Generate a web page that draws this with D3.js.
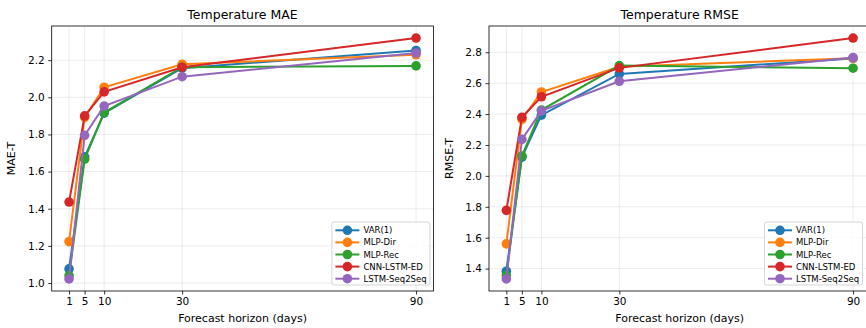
<!DOCTYPE html>
<html>
<head>
<meta charset="utf-8">
<script src="https://cdn.jsdelivr.net/npm/d3@7"></script>
<style>
  body { margin: 0; background: #fff; }
  svg { display: block; font-family: "DejaVu Sans", sans-serif; }
</style>
</head>
<body>
<script>

var horizons = [1, 5, 10, 30, 90];
var models = ["VAR(1)", "MLP-Dir", "MLP-Rec", "CNN-LSTM-ED", "LSTM-Seq2Seq"];
var colors = ["#1f77b4", "#ff7f0e", "#2ca02c", "#d62728", "#9467bd"];

// MAE per model, one value per horizon
var maeVar = [1.076, 1.679, 1.915, 2.157, 2.252];
var maeMlpDir = [1.223, 1.892, 2.054, 2.178, 2.229];
var maeMlpRec = [1.040, 1.667, 1.918, 2.162, 2.169];
var maeCnn = [1.436, 1.900, 2.029, 2.162, 2.319];
var maeLstm = [1.022, 1.795, 1.953, 2.111, 2.238];

// RMSE per model
var rmseVar = [1.383, 2.121, 2.393, 2.660, 2.760];
var rmseMlpDir = [1.560, 2.366, 2.543, 2.706, 2.762];
var rmseMlpRec = [1.355, 2.129, 2.426, 2.714, 2.697];
var rmseCnn = [1.777, 2.379, 2.512, 2.699, 2.892];
var rmseLstm = [1.333, 2.236, 2.421, 2.612, 2.766];

var maeTicks = [1.0, 1.2, 1.4, 1.6, 1.8, 2.0, 2.2];
var rmseTicks = [1.4, 1.6, 1.8, 2.0, 2.2, 2.4, 2.6, 2.8];

var width = 866, height = 328;

var svg = d3.select("body").append("svg")
	.attr("width", width)
	.attr("height", height);

var panels = [
	{ title: "Temperature MAE", ylabel: "MAE-T", series: [maeVar, maeMlpDir, maeMlpRec, maeCnn, maeLstm],
	  ticks: maeTicks, left: 51.7, right: 433.4, ylabX: 15 },
	{ title: "Temperature RMSE", ylabel: "RMSE-T", series: [rmseVar, rmseMlpDir, rmseMlpRec, rmseCnn, rmseLstm],
	  ticks: rmseTicks, left: 489, right: 870.4, ylabX: 453 }
];

var plotTop = 26, plotBottom = 291;

var drawPanel = function(p){
	var g = svg.append("g");

	// matplotlib style 5% margins
	var xMin = d3.min(horizons), xMax = d3.max(horizons);
	var xPad = (xMax - xMin) * 0.05;
	var all = [].concat.apply([], p.series);
	var yMin = d3.min(all), yMax = d3.max(all);
	var yPad = (yMax - yMin) * 0.05;

	var x = d3.scaleLinear().domain([xMin - xPad, xMax + xPad]).range([p.left, p.right]);
	var y = d3.scaleLinear().domain([yMin - yPad, yMax + yPad]).range([plotBottom, plotTop]);

	// grid
	g.selectAll(".gx").data(horizons).enter().append("line")
		.attr("x1", function(d){ return x(d); })
		.attr("x2", function(d){ return x(d); })
		.attr("y1", plotTop).attr("y2", plotBottom)
		.attr("stroke", "#b0b0b0").attr("stroke-opacity", 0.3).attr("stroke-width", 0.8);
	g.selectAll(".gy").data(p.ticks).enter().append("line")
		.attr("y1", function(d){ return y(d); })
		.attr("y2", function(d){ return y(d); })
		.attr("x1", p.left).attr("x2", p.right)
		.attr("stroke", "#b0b0b0").attr("stroke-opacity", 0.3).attr("stroke-width", 0.8);

	// series
	var line = d3.line()
		.x(function(d, i){ return x(horizons[i]); })
		.y(function(d){ return y(d); });

	p.series.forEach(function(s, k){
		g.append("path")
			.attr("d", line(s))
			.attr("fill", "none")
			.attr("stroke", colors[k])
			.attr("stroke-width", 2);
		g.selectAll(".m" + k).data(s).enter().append("circle")
			.attr("cx", function(d, i){ return x(horizons[i]); })
			.attr("cy", function(d){ return y(d); })
			.attr("r", 4.8)
			.attr("fill", colors[k]);
	});

	// axes
	var xAxis = d3.axisBottom(x).tickValues(horizons).tickSize(3.5).tickPadding(3.5)
		.tickFormat(d3.format("d"));
	var gx = g.append("g").attr("transform", "translate(0," + plotBottom + ")").call(xAxis);
	gx.select(".domain").remove();

	var yAxis = d3.axisLeft(y).tickValues(p.ticks).tickSize(3.5).tickPadding(3.5)
		.tickFormat(d3.format(".1f"));
	var gy = g.append("g").attr("transform", "translate(" + p.left + ",0)").call(yAxis);
	gy.select(".domain").remove();

	g.selectAll(".tick text").attr("font-size", 10.5).attr("fill", "#000")
		.attr("font-family", "DejaVu Sans");
	g.selectAll(".tick line").attr("stroke", "#000").attr("stroke-width", 0.8);

	// frame
	g.append("rect")
		.attr("x", p.left).attr("y", plotTop)
		.attr("width", p.right - p.left).attr("height", plotBottom - plotTop)
		.attr("fill", "none").attr("stroke", "#000").attr("stroke-width", 0.8);

	// labels
	g.append("text")
		.attr("x", (p.left + p.right) / 2).attr("y", 19)
		.attr("text-anchor", "middle").attr("font-size", 12.5)
		.text(p.title);
	g.append("text")
		.attr("x", (p.left + p.right) / 2).attr("y", 322)
		.attr("text-anchor", "middle").attr("font-size", 11)
		.text("Forecast horizon (days)");
	g.append("text")
		.attr("transform", "translate(" + p.ylabX + "," + ((plotTop + plotBottom) / 2) + ") rotate(-90)")
		.attr("text-anchor", "middle").attr("font-size", 11)
		.text(p.ylabel);

	// legend
	var lx = Math.min(p.right, width) - 3.5 - 98;
	var lw = 98, lh = 63;
	var ly = plotBottom - 6 - lh;
	var lg = g.append("g");
	lg.append("rect")
		.attr("x", lx).attr("y", ly).attr("width", lw).attr("height", lh)
		.attr("rx", 2).attr("fill", "#fff").attr("fill-opacity", 0.8)
		.attr("stroke", "#cccccc").attr("stroke-width", 0.8);
	var rows = lg.selectAll(".row").data(models).enter().append("g")
		.attr("transform", function(d, i){ return "translate(" + lx + "," + (ly + 8.3 + i * 12.1) + ")"; });
	rows.append("line")
		.attr("x1", 3.5).attr("x2", 27.5).attr("y1", 0).attr("y2", 0)
		.attr("stroke", function(d, i){ return colors[i]; }).attr("stroke-width", 2);
	rows.append("circle")
		.attr("cx", 15.5).attr("cy", 0).attr("r", 4.8)
		.attr("fill", function(d, i){ return colors[i]; });
	rows.append("text")
		.attr("x", 31.5).attr("y", 3)
		.attr("font-size", 8.5)
		.text(function(d){ return d; });
};

panels.forEach(drawPanel);

</script>
</body>
</html>
